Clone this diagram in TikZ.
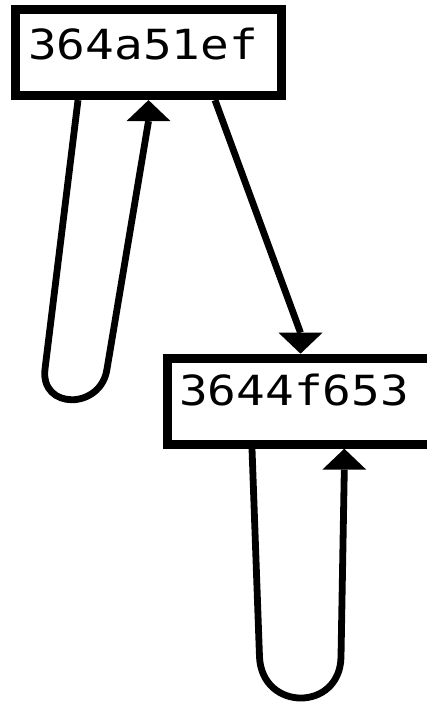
\documentclass[tikz,border=0pt]{standalone}
\usepackage{fontspec}
\newfontfamily\hexfont[FakeStretch=1.15]{DejaVu Sans Mono}
\usetikzlibrary{calc}
\tikzset{
  commitbox/.style={draw=black, line width=9pt, fill=white, rectangle,
    minimum width=266pt, minimum height=86pt, inner sep=0pt},
  hexlabel/.style={font=\hexfont\fontsize{41.5}{44}\selectfont, inner sep=0pt, anchor=base west, text=black},
  edge/.style={draw=black, line width=6.8pt, line cap=butt, line join=round},
  headtip/.style={fill=black}
}
\begin{document}
\begin{tikzpicture}[x=1pt, y=-1pt]
\useasboundingbox (0,0) rectangle (427,704);
\clip (0,0) rectangle (427,704);
\fill[white] (0,0) rectangle (427,704);
% boxes
\node[commitbox] (b1) at (148.5,52.6) {};
\node[commitbox] (b2) at (300.5,401.2) {};
\node[hexlabel] (t1) at (28,59.3) {364a51ef};
\node[hexlabel] (t2) at (179,405) {3644f653};
% anchor points
\coordinate (s1) at ($(b1.south west)+(67,0)$);
\coordinate (h1) at ($(b1.south)+(0,21)$);
\coordinate (s2) at ($(b1.south)+(66.5,0)$);
\coordinate (h2) at ($(b2.north)+(0,-21)$);
\coordinate (s3) at ($(b2.south west)+(89,0)$);
\coordinate (e3) at ($(b2.south)+(43.8,0)$);
\coordinate (h3) at ($(e3)+(0,21)$);
% loop on 364a51ef
\draw[edge] (s1) -- (45,369) .. controls (40,410) and (101,410) .. (107,369) -- (h1);
\fill[headtip] (b1.south) -- ++(-22,21) -- ++(44,0) -- cycle;
% 364a51ef -> 3644f653
\draw[edge] (s2) -- (h2);
\fill[headtip] (b2.north) -- ++(-22,-21) -- ++(44,0) -- cycle;
% loop on 3644f653
\draw[edge] (s3) -- (259.5,657) .. controls (262,711.7) and (340,711.7) .. (341,657) -- (h3);
\fill[headtip] (e3) -- ++(-22,21) -- ++(44,0) -- cycle;
\end{tikzpicture}
\end{document}
